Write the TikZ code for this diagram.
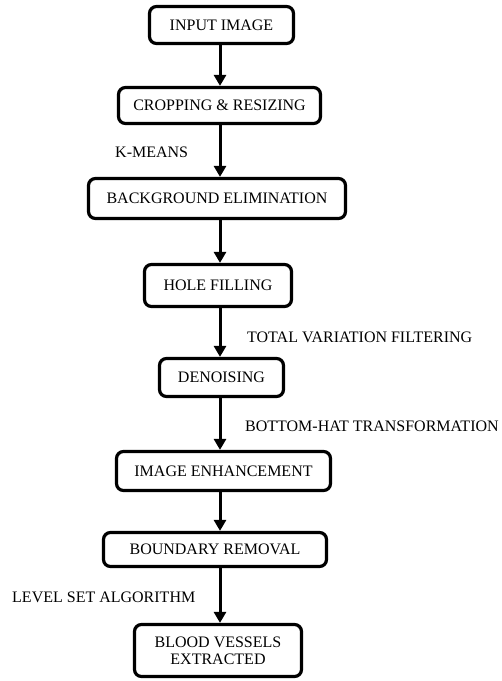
\documentclass[tikz,border=0pt]{standalone}
\usepackage{fontspec}
\setmainfont{Liberation Serif}
\usetikzlibrary{arrows.meta}
\begin{document}
\begin{tikzpicture}[x=1pt,y=-1pt,
  stepbox/.style={draw=black, line width=3.2pt, rounded corners=7pt, fill=white,
    inner sep=0pt, align=center, font=\fontsize{16}{17}\selectfont},
  lbl/.style={anchor=west, inner sep=0pt, font=\fontsize{16}{17}\selectfont},
  arr/.style={line width=3pt, -{Triangle[width=12pt,length=11pt]}}]
\useasboundingbox (0,0) rectangle (502,681);
\coordinate (spine) at (220,0);
\node[stepbox, minimum width=144pt, minimum height=37pt] (n1) at (221.5,25) {INPUT IMAGE};
\node[stepbox, minimum width=202pt, minimum height=36pt] (n2) at (219.5,105.5) {CROPPING \& RESIZING};
\node[stepbox, minimum width=257pt, minimum height=40pt] (n3) at (217,198.5) {BACKGROUND ELIMINATION};
\node[stepbox, minimum width=147pt, minimum height=42pt] (n4) at (218,285.5) {HOLE FILLING};
\node[stepbox, minimum width=124pt, minimum height=38pt] (n5) at (221.5,377.5) {DENOISING};
\node[stepbox, minimum width=214pt, minimum height=39pt] (n6) at (223.5,471) {IMAGE ENHANCEMENT};
\node[stepbox, minimum width=223pt, minimum height=34pt] (n7) at (215,549.5) {BOUNDARY REMOVAL};
\node[stepbox, minimum width=167pt, minimum height=52pt] (n8) at (218,650.5) {BLOOD VESSELS\\EXTRACTED};
\draw[arr] (n1.south -| spine) -- (n2.north -| spine);
\draw[arr] (n2.south -| spine) -- (n3.north -| spine);
\draw[arr] (n3.south -| spine) -- (n4.north -| spine);
\draw[arr] (n4.south -| spine) -- (n5.north -| spine);
\draw[arr] (n5.south -| spine) -- (n6.north -| spine);
\draw[arr] (n6.south -| spine) -- (n7.north -| spine);
\draw[arr] (n7.south -| spine) -- (n8.north -| spine);
\node[lbl] (l1) at (115,152) {K-MEANS};
\node[lbl] (l2) at (247,337) {TOTAL VARIATION FILTERING};
\node[lbl] (l3) at (245,426) {BOTTOM-HAT TRANSFORMATION};
\node[lbl] (l4) at (12,597) {LEVEL SET ALGORITHM};
\end{tikzpicture}
\end{document}
